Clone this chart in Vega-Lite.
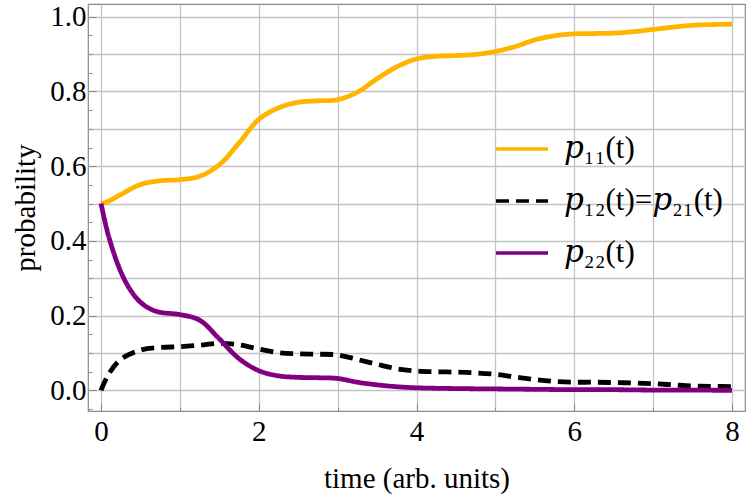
{
  "$schema": "https://vega.github.io/schema/vega-lite/v6.json",
  "width": 657,
  "height": 407,
  "autosize": "none",
  "padding": {"left": 88, "top": 4, "right": 2, "bottom": 86},
  "background": "white",
  "config": {
    "view": {"stroke": "#8a8a8a", "strokeWidth": 1.2},
    "axis": {
      "labelFont": "Liberation Serif",
      "labelFontSize": 29,
      "labelColor": "black",
      "titleFont": "Liberation Serif",
      "titleFontSize": 29,
      "titleFontWeight": "normal",
      "titleColor": "black",
      "domain": false,
      "gridColor": "#c4c4c4",
      "gridWidth": 1.3,
      "tickColor": "#8a8a8a",
      "tickWidth": 1
    }
  },
  "data": {
    "values": [
      {"t": 0, "p": 0.5, "s": "p11"},
      {"t": 0.1, "p": 0.507, "s": "p11"},
      {"t": 0.25, "p": 0.524, "s": "p11"},
      {"t": 0.5, "p": 0.551, "s": "p11"},
      {"t": 0.75, "p": 0.561, "s": "p11"},
      {"t": 1, "p": 0.564, "s": "p11"},
      {"t": 1.25, "p": 0.573, "s": "p11"},
      {"t": 1.5, "p": 0.604, "s": "p11"},
      {"t": 1.75, "p": 0.662, "s": "p11"},
      {"t": 2, "p": 0.725, "s": "p11"},
      {"t": 2.25, "p": 0.756, "s": "p11"},
      {"t": 2.5, "p": 0.771, "s": "p11"},
      {"t": 2.75, "p": 0.775, "s": "p11"},
      {"t": 3, "p": 0.778, "s": "p11"},
      {"t": 3.25, "p": 0.798, "s": "p11"},
      {"t": 3.5, "p": 0.834, "s": "p11"},
      {"t": 3.75, "p": 0.866, "s": "p11"},
      {"t": 4, "p": 0.887, "s": "p11"},
      {"t": 4.25, "p": 0.894, "s": "p11"},
      {"t": 4.5, "p": 0.896, "s": "p11"},
      {"t": 4.75, "p": 0.899, "s": "p11"},
      {"t": 5, "p": 0.907, "s": "p11"},
      {"t": 5.25, "p": 0.92, "s": "p11"},
      {"t": 5.5, "p": 0.938, "s": "p11"},
      {"t": 5.75, "p": 0.949, "s": "p11"},
      {"t": 6, "p": 0.954, "s": "p11"},
      {"t": 6.25, "p": 0.955, "s": "p11"},
      {"t": 6.5, "p": 0.956, "s": "p11"},
      {"t": 6.75, "p": 0.96, "s": "p11"},
      {"t": 7, "p": 0.966, "s": "p11"},
      {"t": 7.25, "p": 0.972, "s": "p11"},
      {"t": 7.5, "p": 0.977, "s": "p11"},
      {"t": 7.75, "p": 0.979, "s": "p11"},
      {"t": 8, "p": 0.98, "s": "p11"},

      {"t": 0, "p": 0.0, "s": "p12"},
      {"t": 0.1, "p": 0.045, "s": "p12"},
      {"t": 0.25, "p": 0.083, "s": "p12"},
      {"t": 0.5, "p": 0.108, "s": "p12"},
      {"t": 0.75, "p": 0.115, "s": "p12"},
      {"t": 1, "p": 0.117, "s": "p12"},
      {"t": 1.25, "p": 0.121, "s": "p12"},
      {"t": 1.5, "p": 0.126, "s": "p12"},
      {"t": 1.75, "p": 0.122, "s": "p12"},
      {"t": 2, "p": 0.111, "s": "p12"},
      {"t": 2.25, "p": 0.101, "s": "p12"},
      {"t": 2.5, "p": 0.098, "s": "p12"},
      {"t": 2.75, "p": 0.097, "s": "p12"},
      {"t": 3, "p": 0.095, "s": "p12"},
      {"t": 3.25, "p": 0.083, "s": "p12"},
      {"t": 3.5, "p": 0.07, "s": "p12"},
      {"t": 3.75, "p": 0.058, "s": "p12"},
      {"t": 4, "p": 0.052, "s": "p12"},
      {"t": 4.25, "p": 0.05, "s": "p12"},
      {"t": 4.5, "p": 0.049, "s": "p12"},
      {"t": 4.75, "p": 0.047, "s": "p12"},
      {"t": 5, "p": 0.043, "s": "p12"},
      {"t": 5.25, "p": 0.036, "s": "p12"},
      {"t": 5.5, "p": 0.029, "s": "p12"},
      {"t": 5.75, "p": 0.024, "s": "p12"},
      {"t": 6, "p": 0.022, "s": "p12"},
      {"t": 6.25, "p": 0.022, "s": "p12"},
      {"t": 6.5, "p": 0.021, "s": "p12"},
      {"t": 6.75, "p": 0.02, "s": "p12"},
      {"t": 7, "p": 0.018, "s": "p12"},
      {"t": 7.25, "p": 0.015, "s": "p12"},
      {"t": 7.5, "p": 0.012, "s": "p12"},
      {"t": 7.75, "p": 0.011, "s": "p12"},
      {"t": 8, "p": 0.01, "s": "p12"},

      {"t": 0, "p": 0.5, "s": "p22"},
      {"t": 0.1, "p": 0.41, "s": "p22"},
      {"t": 0.25, "p": 0.318, "s": "p22"},
      {"t": 0.375, "p": 0.268, "s": "p22"},
      {"t": 0.5, "p": 0.236, "s": "p22"},
      {"t": 0.625, "p": 0.218, "s": "p22"},
      {"t": 0.75, "p": 0.209, "s": "p22"},
      {"t": 1, "p": 0.203, "s": "p22"},
      {"t": 1.25, "p": 0.188, "s": "p22"},
      {"t": 1.5, "p": 0.138, "s": "p22"},
      {"t": 1.75, "p": 0.085, "s": "p22"},
      {"t": 2, "p": 0.053, "s": "p22"},
      {"t": 2.25, "p": 0.039, "s": "p22"},
      {"t": 2.5, "p": 0.035, "s": "p22"},
      {"t": 2.75, "p": 0.034, "s": "p22"},
      {"t": 3, "p": 0.032, "s": "p22"},
      {"t": 3.25, "p": 0.022, "s": "p22"},
      {"t": 3.5, "p": 0.015, "s": "p22"},
      {"t": 3.75, "p": 0.01, "s": "p22"},
      {"t": 4, "p": 0.007, "s": "p22"},
      {"t": 4.5, "p": 0.005, "s": "p22"},
      {"t": 5, "p": 0.004, "s": "p22"},
      {"t": 5.5, "p": 0.003, "s": "p22"},
      {"t": 6, "p": 0.002, "s": "p22"},
      {"t": 6.5, "p": 0.002, "s": "p22"},
      {"t": 7, "p": 0.001, "s": "p22"},
      {"t": 7.5, "p": 0.001, "s": "p22"},
      {"t": 8, "p": 0.0, "s": "p22"}
    ]
  },
  "mark": {"type": "line", "strokeWidth": 4.8, "interpolate": "catmull-rom"},
  "encoding": {
    "x": {
      "field": "t",
      "type": "quantitative",
      "title": "time (arb. units)",
      "scale": {"domain": [-0.165, 8.165], "nice": false, "zero": false},
      "axis": {
        "values": [0, 0.5, 1, 1.5, 2, 2.5, 3, 3.5, 4, 4.5, 5, 5.5, 6, 6.5, 7, 7.5, 8],
        "format": "d",
        "labelExpr": "datum.value % 2 == 0 ? datum.label : ''",
        "tickSize": {"condition": {"test": "datum.value % 2 == 0", "value": -8}, "value": -4},
        "labelPadding": 14,
        "titlePadding": 18,
        "labelFlush": false
      }
    },
    "y": {
      "field": "p",
      "type": "quantitative",
      "title": "probability",
      "scale": {"domain": [-0.055, 1.034], "nice": false, "zero": false},
      "axis": {
        "values": [-0.05, 0, 0.05, 0.1, 0.15, 0.2, 0.25, 0.3, 0.35, 0.4, 0.45, 0.5, 0.55, 0.6, 0.65, 0.7, 0.75, 0.8, 0.85, 0.9, 0.95, 1.0],
        "format": ".1f",
        "labelExpr": "round(datum.value * 20) % 4 == 0 ? datum.label : ''",
        "gridOpacity": {"condition": {"test": "round(datum.value * 20) % 2 == 0", "value": 1}, "value": 0},
        "tickSize": {"condition": {"test": "round(datum.value * 20) % 4 == 0", "value": -8}, "value": -4},
        "labelPadding": 10,
        "titlePadding": 9,
        "labelFlush": false
      }
    },
    "color": {
      "field": "s",
      "type": "nominal",
      "scale": {"domain": ["p11", "p12", "p22"], "range": ["#FFB400", "#000000", "#800080"]},
      "legend": {
        "title": null,
        "orient": "none",
        "legendX": 406,
        "legendY": 117,
        "symbolType": "stroke",
        "symbolSize": 2704,
        "symbolStrokeWidth": 3.5,
        "labelFont": "Liberation Serif, DejaVu Serif",
        "labelFontSize": 31,
        "labelColor": "black",
        "labelOffset": 14,
        "rowPadding": 9,
        "labelLimit": 400,
        "labelExpr": "datum.value == 'p11' ? '𝑝₁₁(t)' : datum.value == 'p12' ? '𝑝₁₂(t)=𝑝₂₁(t)' : '𝑝₂₂(t)'"
      }
    },
    "strokeDash": {
      "field": "s",
      "type": "nominal",
      "scale": {"domain": ["p11", "p12", "p22"], "range": [[1, 0], [13, 7], [1, 0]]},
      "legend": {
        "title": null,
        "orient": "none",
        "legendX": 406,
        "legendY": 117,
        "symbolType": "stroke",
        "symbolSize": 2704,
        "symbolStrokeWidth": 3.5,
        "labelFont": "Liberation Serif, DejaVu Serif",
        "labelFontSize": 31,
        "labelColor": "black",
        "labelOffset": 14,
        "rowPadding": 9,
        "labelLimit": 400,
        "labelExpr": "datum.value == 'p11' ? '𝑝₁₁(t)' : datum.value == 'p12' ? '𝑝₁₂(t)=𝑝₂₁(t)' : '𝑝₂₂(t)'"
      }
    }
  }
}
